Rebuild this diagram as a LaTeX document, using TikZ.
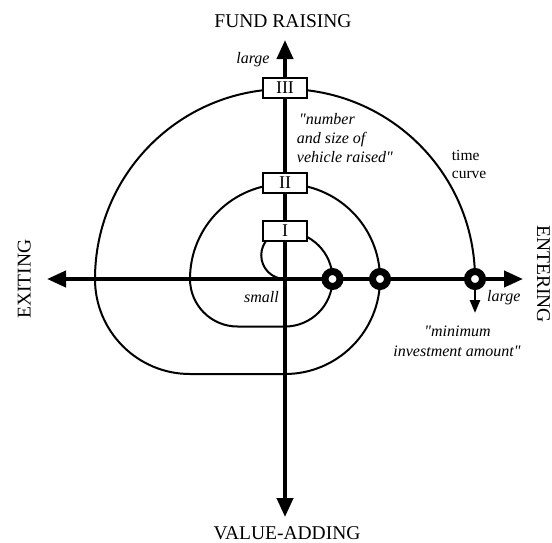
\documentclass[tikz,border=0pt]{standalone}
\usepackage{fontspec}
\setmainfont{Liberation Serif}
\usetikzlibrary{arrows.meta}
\begin{document}
\begin{tikzpicture}[x=1pt,y=1pt,
  axis/.style={line width=4pt,{Triangle[width=16pt,length=19pt]}-{Triangle[width=16pt,length=19pt]}},
  spiral/.style={line width=2pt},
  stagebox/.style={draw,line width=2pt,fill=white,minimum width=44pt,minimum height=20pt,inner sep=0pt,font=\fontsize{18}{20}\selectfont},
  ring/.style={circle,draw,line width=7pt,fill=white,minimum size=15pt,inner sep=0pt},
  axislabel/.style={inner sep=0pt,font=\fontsize{19.5}{23}\selectfont},
  note/.style={inner sep=0pt,font=\fontsize{16}{19}\selectfont\itshape},
  curvelabel/.style={inner sep=0pt,font=\fontsize{15.5}{18}\selectfont}]
\useasboundingbox (0,0) rectangle (552,-542);
\coordinate (O) at (285,-279);
\coordinate (top) at (285,-40);
\coordinate (bottom) at (285,-517);
\coordinate (left) at (47,-279);
\coordinate (right) at (523,-279);
\coordinate (c3down) at (475,-313);
% spiral time curve
\draw[spiral] (O) arc[start angle=270,end angle=90,radius=23.75pt]
  arc[start angle=90,end angle=-90,radius=47.5pt]
  -- ++(-47.5,0)
  arc[start angle=270,end angle=180,radius=47.5pt]
  arc[start angle=180,end angle=-90,radius=95pt]
  -- ++(-95,0)
  arc[start angle=270,end angle=180,radius=95pt]
  arc[start angle=180,end angle=0,radius=190pt];
% axes
\draw[axis] (left) -- (right);
\draw[axis] (bottom) -- (top);
% stage boxes
\node[stagebox] (s3) at (285,-88) {III};
\node[stagebox] (s2) at (285,-183) {II};
\node[stagebox] (s1) at (285,-230.5) {I};
% rings
\node[ring] (c1) at (332.5,-279) {};
\node[ring] (c2) at (380,-279) {};
\draw[line width=2.5pt,-{Triangle[width=10pt,length=13pt]}] (475,-279) -- (c3down);
\node[ring] (c3) at (475,-279) {};
% axis labels
\node[axislabel,anchor=base] (fr) at (283,-27) {FUND RAISING};
\node[axislabel,anchor=base] (va) at (287,-539) {VALUE-ADDING};
\node[axislabel,anchor=base,rotate=90] (ex) at (30.7,-279) {EXITING};
\node[axislabel,anchor=base,rotate=-90] (en) at (537,-274) {ENTERING};
% notes
\node[note,anchor=base] (lg1) at (253,-63) {large};
\node[note,anchor=base west] (n1) at (299,-124) {\textquotedbl number};
\node[note,anchor=base west] (n2) at (296.7,-143) {and size of};
\node[note,anchor=base west] (n3) at (296.7,-162) {vehicle raised\textquotedbl};
\node[curvelabel,anchor=base west] (t1) at (451.7,-160) {time};
\node[curvelabel,anchor=base west] (t2) at (451.7,-178) {curve};
\node[note,anchor=base west] (lg2) at (487,-301.7) {large};
\node[note,anchor=base] (m1) at (457.5,-336.7) {\textquotedbl minimum};
\node[note,anchor=base] (m2) at (457,-356.7) {investment amount\textquotedbl};
\node[note,anchor=base east] (sm) at (279,-302) {small};
\end{tikzpicture}
\end{document}
